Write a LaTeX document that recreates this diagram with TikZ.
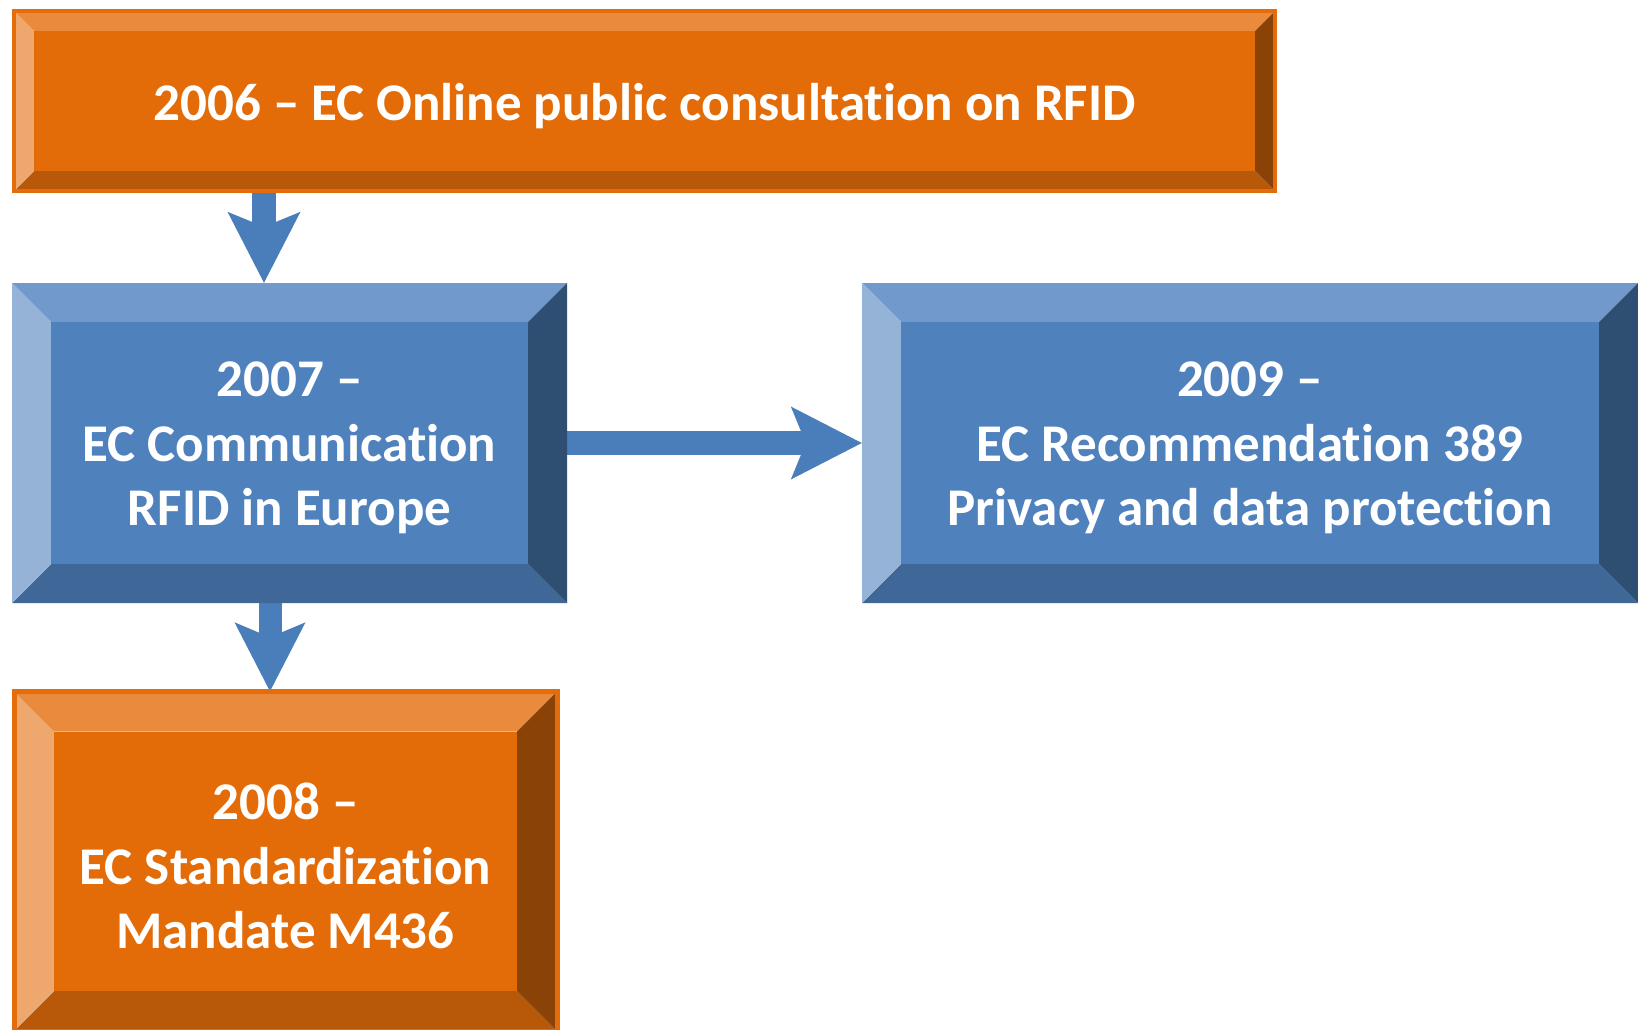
\documentclass[tikz,border=0pt]{standalone}
\usepackage{fontspec}
\setmainfont{Carlito}[Ligatures=NoCommon]
\usetikzlibrary{arrows.meta,fit,calc}
\definecolor{orface}{HTML}{E36C09}
\definecolor{ortop}{HTML}{E98A3C}
\definecolor{orlft}{HTML}{EEA86E}
\definecolor{orbot}{HTML}{B85909}
\definecolor{orrgt}{HTML}{8A4206}
\definecolor{orline}{HTML}{E46C0A}
\definecolor{blface}{HTML}{4F81BD}
\definecolor{bltop}{HTML}{7299CB}
\definecolor{bllft}{HTML}{95B2D7}
\definecolor{blbot}{HTML}{3F6797}
\definecolor{blrgt}{HTML}{2E4E72}
\definecolor{arrowblue}{HTML}{4A7EBB}
\tikzset{
  orlinestyle/.style={draw=orline},
  bllinestyle/.style={draw=none},
  boxtext/.style={inner sep=0pt, text=white, align=center, anchor=center,
    yshift=-5pt, font=\bfseries\fontsize{53}{64.5}\selectfont},
  bigarrow/.style={draw=arrowblue, line width=24pt,
    -{Stealth[length=71pt, width=73pt, inset=15pt, line width=0pt, fill=arrowblue]}},
  smallarrow/.style={draw=arrowblue, line width=23pt,
    -{Stealth[length=69pt, width=71pt, inset=15pt, line width=0pt, fill=arrowblue]}}
}
% #1 name, #2 x1, #3 y1, #4 x2, #5 y2, #6 bevel, #7 palette, #8 text, #9 outline width
\newcommand\bevbox[9]{%
  \fill[#7top] (#2,#3) -- (#4,#3) -- (#4-#6,#3+#6) -- (#2+#6,#3+#6) -- cycle;
  \fill[#7bot] (#2,#5) -- (#4,#5) -- (#4-#6,#5-#6) -- (#2+#6,#5-#6) -- cycle;
  \fill[#7lft] (#2,#3) -- (#2+#6,#3+#6) -- (#2+#6,#5-#6) -- (#2,#5) -- cycle;
  \fill[#7rgt] (#4,#3) -- (#4-#6,#3+#6) -- (#4-#6,#5-#6) -- (#4,#5) -- cycle;
  \fill[#7face] (#2+#6,#3+#6) rectangle (#4-#6,#5-#6);
  \draw[#7linestyle, line width=#9] (#2,#3) rectangle (#4,#5);
  \node[boxtext] (#1) at ($(#2,#3)!0.5!(#4,#5)$) {#8};
}
\begin{document}
\begin{tikzpicture}[x=1pt,y=-1pt]
\useasboundingbox (0,0) rectangle (1638,1029);
\coordinate (a1x) at (264,0);
\coordinate (a2x) at (270,0);
\coordinate (a3y) at (0,443);
\node[inner sep=0pt, fit={(14,11) (1275,191)}] (g2006) {};
\node[inner sep=0pt, fit={(12,283) (567,603)}] (g2007) {};
\node[inner sep=0pt, fit={(14,691.5) (557,1031)}] (g2008) {};
\node[inner sep=0pt, fit={(862,283) (1638,603)}] (g2009) {};
\draw[bigarrow] (g2006.south -| a1x) -- (g2007.north -| a1x);
\draw[smallarrow] (g2007.south -| a2x) -- (g2008.north -| a2x);
\draw[bigarrow] (g2007.east |- a3y) -- (g2009.west |- a3y);
\bevbox{n2006}{14}{11}{1275}{191}{20}{or}{2006 -- EC Online public consultation on RFID}{4pt}
\bevbox{n2007}{12}{283}{567}{603}{39}{bl}{2007 --\\EC Communication\\RFID in Europe}{0pt}
\bevbox{n2009}{862}{283}{1638}{603}{39}{bl}{2009 --\\EC Recommendation 389\\Privacy and data protection}{0pt}
\bevbox{n2008}{14}{691.5}{557}{1031}{40}{or}{2008 --\\EC Standardization\\Mandate M436}{5pt}
\end{tikzpicture}
\end{document}
